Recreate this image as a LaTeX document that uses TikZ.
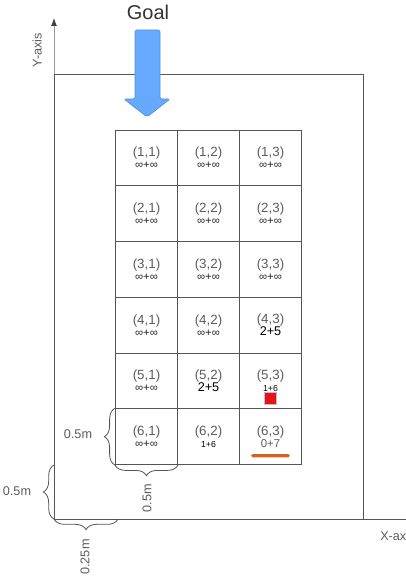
\documentclass[tikz,border=0pt]{standalone}
\usepackage{fontspec}
\setmainfont{Liberation Sans}
\usetikzlibrary{positioning, arrows.meta, decorations.pathreplacing}
\definecolor{gridgray}{HTML}{555555}
\definecolor{axisgray}{HTML}{9A9A9A}
\definecolor{labelgray}{HTML}{5C5C5C}
\definecolor{goalblue}{HTML}{66AAFF}
\definecolor{goaledge}{HTML}{5A8ED4}
\definecolor{markred}{HTML}{E5141A}
\definecolor{barorange}{HTML}{D8601A}
\tikzstyle{cell}=[draw=gridgray,line width=0.8pt,rectangle,minimum width=46.5pt,minimum height=41.8pt,inner sep=0pt,align=center,text=labelgray,font=\fontsize{10}{9}\selectfont]
\tikzstyle{dimlabel}=[text=labelgray,font=\fontsize{9.5}{11}\selectfont,inner sep=0pt]
\tikzstyle{dimbrace}=[decorate,decoration={brace,amplitude=8pt},draw=gridgray,line width=0.6pt]
\newcommand{\inff}{{\fontsize{8.5}{9}\selectfont\color{black!85}∞+∞}}
\newcommand{\costbig}[1]{{\fontsize{9.5}{9}\selectfont\color{black}#1}}
\newcommand{\costsmall}[1]{{\fontsize{6.5}{9}\selectfont\color{black}#1}}

\begin{document}
\begin{tikzpicture}[x=0.75pt,y=-0.75pt,node distance=46.5pt]
    \useasboundingbox (0,0) rectangle (405,581);
    % field and axes
    \coordinate (origin) at (54,519);
    \coordinate (topright) at (363,74);
    \coordinate (ytop) at (54,74);
    \coordinate (yend) at (54,18);
    \coordinate (xstart) at (363,519);
    \coordinate (xend) at (420,519);
    \draw[gridgray,line width=0.7pt] (origin) rectangle (topright);
    \draw[axisgray,line width=0.7pt,-{Latex[length=6pt,width=4.5pt,color=black!75]}] (ytop) -- (yend);
    \draw[gridgray,line width=0.7pt] (xstart) -- (xend);
    \node[dimlabel,rotate=90] (ylabel) at (37,50) {Y-axis};
    \node[dimlabel,anchor=west] (xlabel) at (380,536) {X-axis};
    % goal arrow
    \node[text=black!80,font=\fontsize{15}{16}\selectfont] (goal) at (148,12) {Goal};
    \draw[fill=goalblue,draw=goaledge,line width=0.5pt,rounded corners=1.5pt]
        (135,30) -- (160,30) -- (160,99) -- (170,99) -- (147,117) -- (124,99) -- (135,99) -- cycle;
    % grid cells
    \node[cell] (c11) at (146.5,158) {(1,1)\\\inff};
    \node[cell, right of=c11] (c12) {(1,2)\\\inff};
    \node[cell, right of=c12] (c13) {(1,3)\\\inff};
    \node[cell, below of=c11, node distance=41.8pt] (c21) {(2,1)\\\inff};
    \node[cell, right of=c21] (c22) {(2,2)\\\inff};
    \node[cell, right of=c22] (c23) {(2,3)\\\inff};
    \node[cell, below of=c21, node distance=41.8pt] (c31) {(3,1)\\\inff};
    \node[cell, right of=c31] (c32) {(3,2)\\\inff};
    \node[cell, right of=c32] (c33) {(3,3)\\\inff};
    \node[cell, below of=c31, node distance=41.8pt] (c41) {(4,1)\\\inff};
    \node[cell, right of=c41] (c42) {(4,2)\\\inff};
    \node[cell, right of=c42] (c43) {(4,3)\\\costbig{2+5}};
    \node[cell, below of=c41, node distance=41.8pt] (c51) {(5,1)\\\inff};
    \node[cell, right of=c51] (c52) {(5,2)\\\costbig{2+5}};
    \node[cell, right of=c52] (c53) {(5,3)\\\costsmall{1+6}};
    \node[cell, below of=c51, node distance=41.8pt] (c61) {(6,1)\\\inff};
    \node[cell, right of=c61] (c62) {(6,2)\\\costsmall{1+6}};
    \node[cell, right of=c62] (c63) {(6,3)\\{\fontsize{8.5}{9}\selectfont 0+7}};
    % robot and start marks
    \node[fill=markred,draw=black!25,line width=0.4pt,minimum size=9pt,inner sep=0pt] (robot) at ([yshift=-12.8pt]c53.center) {};
    \node[fill=barorange,rounded corners=1.2pt,minimum width=29pt,minimum height=2.4pt,inner sep=0pt] (startbar) at ([yshift=-14.3pt]c63.center) {};
    % dimensions
    \coordinate (gridbottom) at (origin |- c61.south);
    \coordinate (quarter) at (118,519);
    \draw[dimbrace] (c61.south west) -- (c61.north west);
    \draw[dimbrace] (c61.south east) -- (c61.south west);
    \draw[dimbrace] (origin) -- (gridbottom);
    \draw[dimbrace] (quarter) -- (origin);
    \node[dimlabel] (cellh) at (78,434) {0.5m};
    \node[dimlabel,rotate=90] (cellw) at (147,498) {0.5m};
    \node[dimlabel] (gaph) at (17,491) {0.5m};
    \node[dimlabel,rotate=90] (gapw) at (85,557) {0.25m};
\end{tikzpicture}
\end{document}
